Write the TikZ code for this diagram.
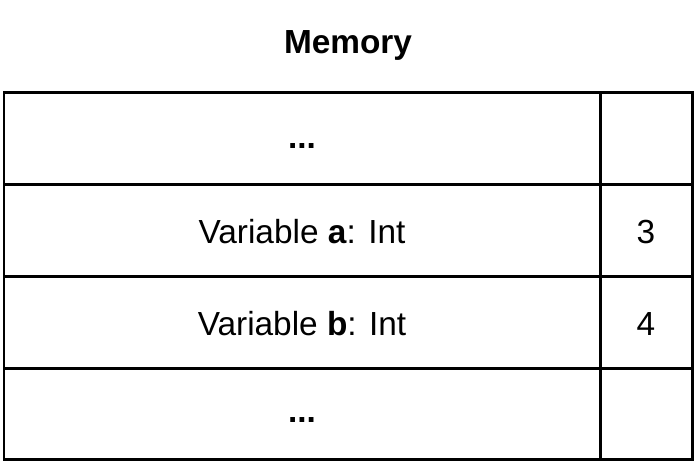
\documentclass[tikz,border=0pt]{standalone}
\usepackage{fontspec}
\setmainfont{Liberation Sans}
\begin{document}
\begin{tikzpicture}[x=0.02cm,y=-0.02cm,
  cell/.style={font=\fontsize{19}{22}\selectfont, inner sep=0pt}]
\useasboundingbox (0,0) rectangle (696,463);
\node[cell, font=\fontsize{19}{22}\selectfont\bfseries] (title) at (348,45) {Memory};
\draw[line width=0.06cm] (4,92) rectangle (692,459);
\foreach \y in {184,276,368}
  \draw[line width=0.06cm] (4,\y) -- (692,\y);
\draw[line width=0.06cm] (600,92) -- (600,459);
\node[cell] (top) at (302,146) {\textbf{...}};
\node[cell] (vara) at (302,232) {Variable \textbf{a}: Int};
\node[cell] (vala) at (646,232) {3};
\node[cell] (varb) at (302,324) {Variable \textbf{b}: Int};
\node[cell] (valb) at (646,324) {4};
\node[cell] (bottom) at (302,420) {\textbf{...}};
\end{tikzpicture}
\end{document}
